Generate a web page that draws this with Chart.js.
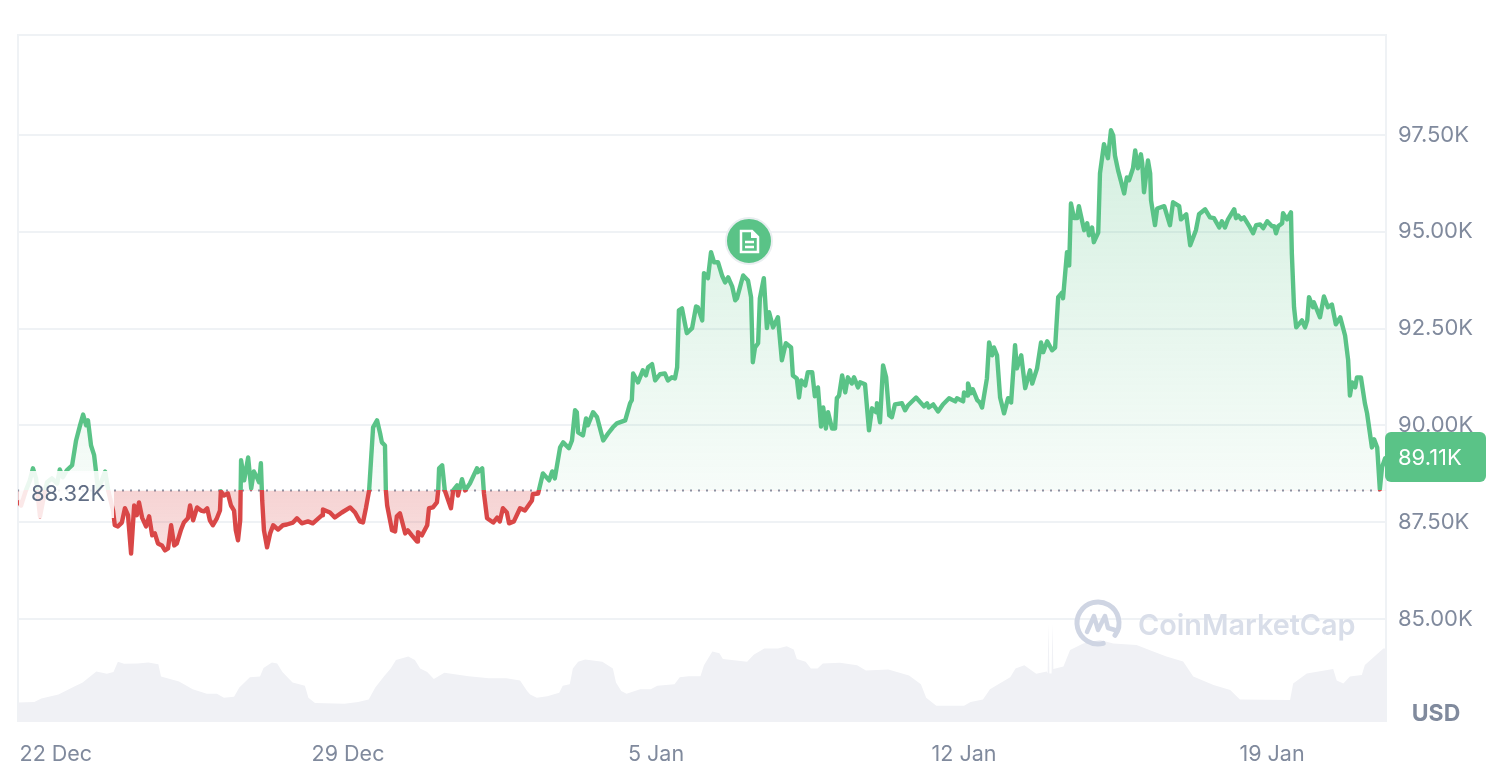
<!DOCTYPE html>
<html>
<head>
<meta charset="utf-8">
<title>Bitcoin price chart</title>
<script src="https://cdn.jsdelivr.net/npm/chart.js@4/dist/chart.umd.min.js"></script>
<style>
    html, body { margin: 0; padding: 0; background: #fff; }
    #wrap { width: 1508px; height: 767px; }
</style>
</head>
<body>
<div id="wrap"><canvas id="priceChart" width="1508" height="767"></canvas></div>
<script>
// Days counted from 22 Dec, prices in thousands of USD
const priceDays = [
    -0.50, -0.43, -0.32, -0.23, -0.16, -0.09, -0.05, 0.00, 0.07, 0.16, 0.27, 0.39, 0.45, 0.52, 0.61, 0.73, 0.82, 0.91, 0.98, 1.05,
    1.09, 1.16, 1.23, 1.27, 1.32, 1.39, 1.48, 1.55, 1.66, 1.70, 1.77, 1.86, 1.93, 2.00, 2.07, 2.14, 2.20, 2.25, 2.32, 2.41,
    2.48, 2.55, 2.61, 2.68, 2.77, 2.84, 2.91, 2.98, 3.05, 3.11, 3.20, 3.27, 3.36, 3.41, 3.48, 3.57, 3.66, 3.73, 3.80, 3.86,
    3.93, 4.02, 4.09, 4.11, 4.18, 4.27, 4.34, 4.41, 4.45, 4.50, 4.55, 4.57, 4.64, 4.73, 4.80, 4.86, 4.93, 4.98, 5.02, 5.05,
    5.09, 5.16, 5.23, 5.30, 5.41, 5.52, 5.61, 5.75, 5.84, 5.95, 6.09, 6.20, 6.41, 6.43, 6.59, 6.70, 6.86, 7.05, 7.16, 7.27,
    7.34, 7.41, 7.48, 7.57, 7.66, 7.73, 7.77, 7.84, 7.86, 7.89, 8.00, 8.07, 8.11, 8.18, 8.30, 8.36, 8.45, 8.57, 8.59, 8.68,
    8.80, 8.84, 8.93, 9.02, 9.05, 9.07, 9.14, 9.20, 9.34, 9.39, 9.48, 9.50, 9.59, 9.66, 9.77, 9.93, 9.95, 10.05, 10.09, 10.16,
    10.30, 10.39, 10.45, 10.52, 10.61, 10.66, 10.77, 10.91, 11.02, 11.18, 11.20, 11.32, 11.43, 11.57, 11.64, 11.70, 11.82, 11.89, 12.02, 12.09,
    12.16, 12.20, 12.23, 12.34, 12.41, 12.45, 12.57, 12.66, 12.80, 12.91, 13.02, 13.11, 13.30, 13.41, 13.45, 13.48, 13.59, 13.70, 13.77, 13.82,
    13.91, 13.98, 14.09, 14.20, 14.27, 14.36, 14.43, 14.48, 14.52, 14.59, 14.70, 14.82, 14.91, 14.95, 15.05, 15.09, 15.18, 15.25, 15.32, 15.41,
    15.50, 15.57, 15.64, 15.73, 15.80, 15.84, 15.98, 16.09, 16.16, 16.20, 16.25, 16.32, 16.36, 16.45, 16.52, 16.57, 16.66, 16.77, 16.86, 16.95,
    17.07, 17.11, 17.20, 17.25, 17.30, 17.39, 17.45, 17.55, 17.61, 17.68, 17.75, 17.80, 17.86, 17.91, 18.00, 18.07, 18.11, 18.16, 18.23, 18.30,
    18.36, 18.45, 18.50, 18.59, 18.64, 18.75, 18.84, 18.91, 19.00, 19.02, 19.09, 19.16, 19.23, 19.30, 19.36, 19.43, 19.59, 19.66, 19.73, 19.91,
    20.09, 20.16, 20.20, 20.30, 20.41, 20.52, 20.66, 20.80, 20.84, 20.98, 21.00, 21.07, 21.09, 21.16, 21.20, 21.30, 21.36, 21.41, 21.52, 21.57,
    21.64, 21.68, 21.75, 21.82, 21.91, 22.00, 22.07, 22.16, 22.20, 22.30, 22.39, 22.50, 22.55, 22.66, 22.75, 22.80, 22.89, 23.00, 23.07, 23.14,
    23.23, 23.25, 23.34, 23.39, 23.43, 23.50, 23.57, 23.61, 23.73, 23.80, 23.84, 23.91, 23.95, 24.05, 24.09, 24.18, 24.27, 24.34, 24.39, 24.43,
    24.50, 24.64, 24.70, 24.75, 24.84, 24.89, 24.95, 25.02, 25.05, 25.09, 25.18, 25.23, 25.25, 25.34, 25.39, 25.55, 25.68, 25.75, 25.89, 25.93,
    26.05, 26.14, 26.27, 26.34, 26.48, 26.59, 26.68, 26.80, 26.86, 26.93, 27.00, 27.14, 27.18, 27.23, 27.30, 27.36, 27.50, 27.57, 27.64, 27.73,
    27.80, 27.89, 28.00, 28.05, 28.09, 28.14, 28.23, 28.25, 28.34, 28.43, 28.45, 28.50, 28.55, 28.68, 28.75, 28.80, 28.84, 28.93, 28.95, 29.09,
    29.18, 29.27, 29.36, 29.45, 29.55, 29.66, 29.73, 29.77, 29.82, 29.89, 29.93, 30.02, 30.11, 30.16, 30.27, 30.32, 30.39, 30.45, 30.50, 30.57,
    30.59
];
const prices = [
    88.06, 87.93, 88.32, 88.58, 88.89, 88.63, 88.19, 87.65, 88.06, 88.53, 88.63, 88.50, 88.86, 88.66, 88.84, 88.97, 89.61, 90.00, 90.28, 90.00,
    90.13, 89.48, 89.23, 88.84, 88.32, 88.53, 88.81, 88.32, 87.80, 87.42, 87.39, 87.49, 87.86, 87.68, 86.69, 87.93, 87.68, 88.01, 87.62, 87.39,
    87.65, 87.16, 87.21, 86.95, 86.90, 86.77, 86.82, 87.42, 86.90, 86.95, 87.29, 87.49, 87.60, 87.93, 87.55, 87.88, 87.80, 87.78, 87.86, 87.55,
    87.42, 87.60, 87.80, 88.30, 88.19, 88.24, 87.93, 87.80, 87.29, 87.03, 87.55, 89.10, 88.58, 89.17, 88.37, 88.81, 88.66, 88.53, 89.02, 88.06,
    87.29, 86.85, 87.21, 87.42, 87.31, 87.42, 87.44, 87.49, 87.60, 87.47, 87.52, 87.47, 87.68, 87.83, 87.75, 87.62, 87.75, 87.88, 87.75, 87.52,
    87.49, 87.88, 88.32, 89.95, 90.13, 89.79, 89.56, 89.48, 88.32, 87.93, 87.29, 87.26, 87.65, 87.73, 87.21, 87.29, 87.16, 87.00, 87.24, 87.16,
    87.42, 87.86, 87.88, 88.01, 88.32, 88.89, 88.97, 88.32, 87.86, 88.32, 88.45, 88.19, 88.61, 88.32, 88.50, 88.89, 88.79, 88.89, 88.24, 87.60,
    87.49, 87.62, 87.52, 87.86, 87.75, 87.47, 87.52, 87.86, 87.80, 88.06, 88.22, 88.24, 88.76, 88.58, 88.81, 88.63, 89.43, 89.56, 89.41, 89.61,
    90.39, 90.34, 89.82, 89.74, 90.18, 90.00, 90.34, 90.21, 89.61, 89.79, 89.95, 90.05, 90.13, 90.57, 90.65, 91.34, 91.11, 91.42, 91.29, 91.50,
    91.58, 91.16, 91.32, 91.34, 91.16, 91.24, 91.21, 91.50, 92.97, 93.02, 92.38, 92.51, 93.07, 93.05, 92.71, 93.93, 93.80, 94.47, 94.21, 94.21,
    93.87, 93.69, 93.82, 93.59, 93.23, 93.28, 93.87, 93.74, 93.31, 91.63, 92.01, 92.12, 93.28, 93.80, 92.51, 92.92, 92.53, 92.79, 91.68, 92.12,
    92.01, 91.29, 91.21, 90.72, 91.16, 91.03, 91.37, 91.37, 90.75, 90.98, 89.97, 90.46, 89.92, 90.34, 89.92, 89.92, 90.70, 90.77, 91.29, 90.85,
    91.24, 91.08, 91.24, 90.98, 91.11, 91.06, 89.87, 90.44, 90.34, 90.57, 90.08, 91.55, 91.24, 90.26, 90.21, 90.54, 90.57, 90.39, 90.52, 90.72,
    90.49, 90.57, 90.46, 90.54, 90.36, 90.54, 90.70, 90.62, 90.70, 90.62, 90.85, 90.77, 91.08, 90.83, 90.93, 90.65, 90.59, 90.46, 91.21, 92.14,
    91.81, 92.01, 91.81, 90.72, 90.31, 90.70, 90.59, 92.07, 91.47, 91.81, 90.96, 91.42, 91.08, 91.47, 92.14, 91.89, 92.17, 91.94, 92.01, 93.31,
    93.43, 93.28, 94.47, 94.13, 95.73, 95.35, 95.35, 95.66, 95.04, 95.22, 94.91, 95.11, 94.73, 94.98, 96.51, 97.26, 96.90, 97.62, 97.49, 96.97,
    96.59, 95.99, 96.40, 96.33, 96.64, 97.10, 96.64, 97.00, 96.77, 96.02, 96.84, 96.51, 95.81, 95.17, 95.60, 95.66, 95.17, 95.76, 95.66, 95.32,
    95.45, 94.65, 95.04, 95.45, 95.58, 95.37, 95.35, 95.11, 95.27, 95.11, 95.32, 95.58, 95.35, 95.42, 95.32, 95.37, 95.11, 94.96, 95.17, 95.19,
    95.09, 95.27, 95.14, 95.14, 94.96, 95.14, 95.22, 95.48, 95.32, 95.50, 94.44, 93.05, 92.53, 92.71, 92.53, 92.71, 93.31, 93.05, 93.18, 92.79,
    93.33, 93.05, 93.12, 92.61, 92.79, 92.32, 91.68, 90.77, 91.11, 90.98, 91.24, 91.24, 90.57, 90.31, 89.43, 89.64, 89.43, 88.35, 88.92, 89.15,
    89.11
];

// Volume in billions of USD, estimated from the grey band
const volumeDays = [
    -0.50, -0.13, 0.03, 0.42, 0.77, 0.97, 1.28, 1.52, 1.67, 1.77, 1.91, 2.22, 2.46, 2.69, 2.75, 3.16, 3.47, 3.79, 4.02, 4.18,
    4.41, 4.53, 4.77, 5.00, 5.08, 5.27, 5.39, 5.51, 5.74, 6.02, 6.10, 6.25, 6.92, 7.23, 7.47, 7.62, 7.82, 7.97, 8.09, 8.37,
    8.52, 8.64, 8.80, 8.95, 9.19, 9.74, 10.20, 10.60, 10.91, 11.07, 11.14, 11.29, 11.53, 11.80, 11.88, 12.04, 12.11, 12.23, 12.39, 12.78,
    13.02, 13.09, 13.21, 13.33, 13.64, 13.88, 14.03, 14.42, 14.54, 14.74, 15.01, 15.09, 15.28, 15.44, 15.52, 16.07, 16.22, 16.46, 16.77, 16.97,
    17.13, 17.20, 17.40, 17.52, 17.67, 17.79, 18.18, 18.57, 18.77, 19.28, 19.75, 20.02, 20.14, 20.37, 21.00, 21.15, 21.43, 21.59, 21.78, 22.05,
    22.17, 22.37, 22.64, 22.88, 22.90, 22.92, 22.94, 22.99, 23.01, 23.03, 23.26, 23.41, 23.71, 24.09, 24.39, 24.92, 25.30, 25.60, 25.98,
    26.21, 26.67, 27.05, 27.27, 28.41, 28.48, 28.79, 29.39, 29.47, 29.62, 29.77, 30.04, 30.11, 30.53, 30.59
];
const volumes = [
    9.8, 10.0, 11.7, 13.8, 17.6, 19.8, 25.3, 24.1, 25.0, 30.1, 29.1, 29.3, 29.8, 28.9, 22.7, 20.3, 16.4, 14.1, 14.1, 12.1,
    12.6, 17.2, 22.4, 22.7, 27.0, 29.8, 29.3, 25.0, 19.8, 18.1, 12.1, 9.5, 9.1, 10.0, 11.2, 17.2, 22.9, 26.7, 31.0, 32.7,
    31.0, 26.7, 25.0, 21.5, 24.6, 22.9, 21.9, 21.9, 20.7, 15.5, 13.8, 12.1, 12.9, 14.6, 18.1, 18.9, 26.7, 30.1, 31.3, 30.1,
    26.7, 19.8, 15.5, 14.1, 16.4, 16.4, 18.1, 18.9, 22.4, 22.9, 22.9, 28.4, 35.3, 34.4, 31.5, 30.1, 33.6, 36.7, 36.7, 37.9,
    36.2, 31.5, 30.1, 26.7, 26.7, 29.3, 29.6, 28.4, 25.8, 26.3, 23.2, 18.9, 12.1, 8.1, 8.1, 10.0, 11.2, 16.4, 18.9, 22.4,
    26.7, 28.4, 24.1, 25.3, 24.3, 49.3, 24.3, 24.3, 49.3, 26.5, 27.7, 36.0, 39.3, 41.0, 39.3, 38.5, 35.2, 32.7, 30.2,
    22.7, 18.5, 16.0, 11.3, 11.0, 19.3, 24.3, 26.5, 20.7, 19.3, 22.7, 23.5, 28.5, 36.8, 36.8
];

const baselineDays = [-0.5, 30.59];
const baselinePrices = [88.32, 88.32];
const priceTicks = [85, 87.5, 90, 92.5, 95, 97.5];
const dayTicks = [0.36, 7, 14, 21, 28];
const dayTickLabels = ['22 Dec', '29 Dec', '5 Jan', '12 Jan', '19 Jan'];
const baselineLabel = '88.32K';
const lastPriceLabel = '89.11K';
const currencyLabel = 'USD';
const watermarkLabel = 'CoinMarketCap';

const GREEN = '#5ac387';
const RED = '#d94747';
const TICK_COLOR = '#808a9d';
const GRID_COLOR = '#eff2f5';
const FONT = 'Inter, sans-serif';

const PLOT = { left: 18, top: 35, right: 1386, bottom: 722 };
const Y_MIN = 82.34;
const Y_MAX = 100.08;

function toPoints(xs, ys) {
    return xs.map((x, i) => ({ x: x, y: ys[i] }));
}

function priceToPixel(value) {
    return PLOT.top + (Y_MAX - value) / (Y_MAX - Y_MIN) * (PLOT.bottom - PLOT.top);
}

const ctx = document.getElementById('priceChart').getContext('2d');
const baseY = priceToPixel(baselinePrices[0]);

// Line turns red below the opening price
const lineGradient = ctx.createLinearGradient(0, PLOT.top, 0, PLOT.bottom);
const stop = (baseY - PLOT.top) / (PLOT.bottom - PLOT.top);
lineGradient.addColorStop(0, GREEN);
lineGradient.addColorStop(stop, GREEN);
lineGradient.addColorStop(stop, RED);
lineGradient.addColorStop(1, RED);

const aboveFill = ctx.createLinearGradient(0, 130, 0, baseY);
aboveFill.addColorStop(0, 'rgba(90, 195, 135, 0.26)');
aboveFill.addColorStop(1, 'rgba(90, 195, 135, 0.05)');

const belowFill = ctx.createLinearGradient(0, baseY, 0, 555);
belowFill.addColorStop(0, 'rgba(217, 71, 71, 0.24)');
belowFill.addColorStop(1, 'rgba(217, 71, 71, 0.17)');

// Frame, baseline label, last price badge, note marker, watermark
const overlayPlugin = {
    id: 'overlay',
    beforeDatasetsDraw(chart) {
        const c = chart.ctx;
        c.save();
        c.strokeStyle = GRID_COLOR;
        c.lineWidth = 2;
        c.beginPath();
        c.moveTo(PLOT.left, PLOT.bottom);
        c.lineTo(PLOT.left, PLOT.top);
        c.lineTo(PLOT.right, PLOT.top);
        c.lineTo(PLOT.right, PLOT.bottom);
        c.stroke();
        c.restore();
    },
    afterDatasetsDraw(chart) {
        const c = chart.ctx;
        c.save();

        // watermark
        c.strokeStyle = '#cfd5e3';
        c.lineWidth = 5;
        c.lineCap = 'round';
        c.lineJoin = 'round';
        c.beginPath();
        c.arc(1098, 623, 21, Math.PI * 0.42, Math.PI * 2.2);
        c.stroke();
        c.lineWidth = 4.5;
        c.beginPath();
        c.moveTo(1087, 632);
        c.lineTo(1094, 616);
        c.lineTo(1098, 630);
        c.lineTo(1105, 616);
        c.lineTo(1108, 628);
        c.lineTo(1115, 630);
        c.stroke();
        c.fillStyle = '#d9dee9';
        c.font = '600 28.8px ' + FONT;
        c.textAlign = 'left';
        c.textBaseline = 'middle';
        c.fillText(watermarkLabel, 1138, 626);

        // baseline label on a white patch
        c.fillStyle = 'rgba(255, 255, 255, 0.88)';
        c.fillRect(PLOT.left + 1, 471, 95, 47);
        c.fillStyle = '#616e85';
        c.font = '22px ' + FONT;
        c.fillText(baselineLabel, 31, 494);

        // last price badge
        c.fillStyle = GREEN;
        c.beginPath();
        c.roundRect(1385, 432, 101, 50, 6);
        c.fill();
        c.fillStyle = '#fff';
        c.font = '22px ' + FONT;
        c.fillText(lastPriceLabel, 1398, 458);

        // currency
        c.fillStyle = TICK_COLOR;
        c.font = '700 23px ' + FONT;
        c.textAlign = 'center';
        c.fillText(currencyLabel, 1436, 714);

        // note marker
        c.fillStyle = GREEN;
        c.strokeStyle = '#e9eef0';
        c.lineWidth = 2;
        c.beginPath();
        c.arc(749, 241, 23, 0, Math.PI * 2);
        c.fill();
        c.stroke();
        c.strokeStyle = '#fff';
        c.lineWidth = 2.5;
        c.lineCap = 'butt';
        c.lineJoin = 'miter';
        c.beginPath();
        c.moveTo(741, 231);
        c.lineTo(752, 231);
        c.lineTo(758, 237);
        c.lineTo(758, 252);
        c.lineTo(741, 252);
        c.closePath();
        c.moveTo(745, 242);
        c.lineTo(754, 242);
        c.moveTo(745, 247);
        c.lineTo(754, 247);
        c.stroke();
        c.fillStyle = '#fff';
        c.beginPath();
        c.moveTo(751, 231);
        c.lineTo(758, 238);
        c.lineTo(751, 238);
        c.closePath();
        c.fill();

        c.restore();
    }
};

new Chart(ctx, {
    type: 'line',
    data: {
        datasets: [
            {
                label: 'Price',
                data: toPoints(priceDays, prices),
                yAxisID: 'y',
                order: 1,
                borderColor: lineGradient,
                borderWidth: 4.4,
                borderJoinStyle: 'round',
                pointRadius: 0,
                tension: 0,
                fill: { target: { value: baselinePrices[0] }, above: aboveFill, below: belowFill }
            },
            {
                label: 'Open',
                data: toPoints(baselineDays, baselinePrices),
                yAxisID: 'y',
                order: 2,
                borderColor: '#8a93a6',
                borderWidth: 2,
                borderDash: [2, 6],
                pointRadius: 0,
                fill: false
            },
            {
                label: 'Volume',
                data: toPoints(volumeDays, volumes),
                yAxisID: 'volume',
                order: 3,
                borderWidth: 0,
                backgroundColor: '#f0f1f5',
                pointRadius: 0,
                tension: 0,
                fill: 'origin'
            }
        ]
    },
    options: {
        responsive: false,
        animation: false,
        layout: { padding: { left: PLOT.left, top: PLOT.top, right: 0, bottom: 0 } },
        plugins: {
            legend: { display: false },
            tooltip: { enabled: false }
        },
        scales: {
            x: {
                type: 'linear',
                min: baselineDays[0],
                max: baselineDays[1],
                afterBuildTicks: scale => { scale.ticks = dayTicks.map(value => ({ value })); },
                afterFit: scale => { scale.height = 767 - PLOT.bottom; },
                grid: { display: false },
                border: { display: false },
                ticks: {
                    autoSkip: false,
                    maxRotation: 0,
                    padding: 12,
                    color: TICK_COLOR,
                    font: { family: FONT, size: 21.5 },
                    callback: (value, index) => dayTickLabels[index]
                }
            },
            y: {
                position: 'right',
                min: Y_MIN,
                max: Y_MAX,
                afterBuildTicks: scale => { scale.ticks = priceTicks.map(value => ({ value })); },
                afterFit: scale => { scale.width = 1508 - PLOT.right; },
                grid: { color: GRID_COLOR, lineWidth: 2, drawTicks: false },
                border: { display: false },
                ticks: {
                    padding: 12,
                    color: TICK_COLOR,
                    font: { family: FONT, size: 22 },
                    callback: value => value.toFixed(2) + 'K'
                }
            },
            volume: {
                display: false,
                min: 0,
                max: 343.5
            }
        }
    },
    plugins: [overlayPlugin]
});
</script>
</body>
</html>
